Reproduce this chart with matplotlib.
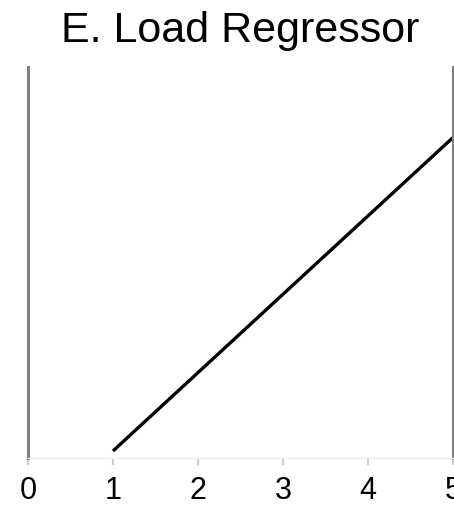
import matplotlib
matplotlib.use("Agg")
import matplotlib.pyplot as plt

# Load regressor values over time
x_values = [1, 2, 3, 4, 5]
load_values = [0, 1, 2, 3, 4]
x_ticks = [0, 1, 2, 3, 4, 5]
x_tick_labels = ["0", "1", "2", "3", "4", "5"]
title = "E. Load Regressor"

W, H = 454, 508
fig = plt.figure(figsize=(W / 100, H / 100), dpi=100)
ax = fig.add_axes([28 / W, 1 - 458 / H, 425 / W, 391 / H])

ax.plot(x_values, load_values, color="black", linewidth=2.4, solid_capstyle="butt")

ax.set_xlim(0, 5)
ax.set_ylim(-0.09, 4.9)
ax.set_xticks(x_ticks)
ax.set_xticklabels(x_tick_labels, fontsize=22, family="Liberation Sans")
ax.set_yticks([])
ax.tick_params(axis="x", length=5, width=1.5, color="#cccccc", pad=8)

for side in ("left", "right"):
    ax.spines[side].set_color("#808080")
    ax.spines[side].set_linewidth(2.2)
ax.spines["top"].set_visible(False)
ax.spines["bottom"].set_color("#eeeeee")
ax.spines["bottom"].set_linewidth(1)

fig.text(240 / W, 1 - 31 / H, title, ha="center", va="center",
         fontsize=31, family="Liberation Sans")

fig.savefig("out.png", dpi=100)
